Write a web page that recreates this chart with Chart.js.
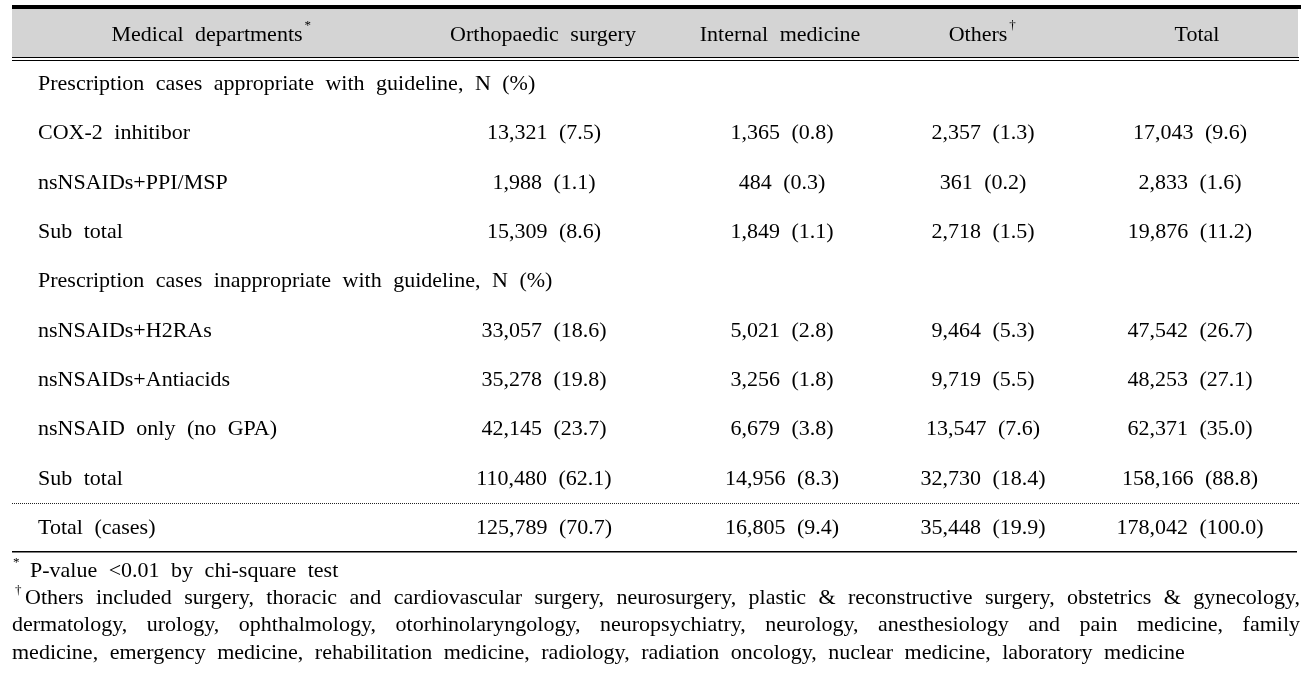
<html>
    <head>
        <script src="https://cdn.jsdelivr.net/npm/chart.js@4"></script>
        <style>
            body { margin: 0; background: #fff; }
        </style>
    </head>
    <body>
        <canvas id="myTable" width="1309" height="678"></canvas>

        <script>
            // table content
            var headers = ['Medical departments', 'Orthopaedic surgery', 'Internal medicine', 'Others', 'Total'];
            var sectionTitles = ['Prescription cases appropriate with guideline, N (%)', 'Prescription cases inappropriate with guideline, N (%)'];
            var rowLabels = ['COX-2 inhitibor', 'nsNSAIDs+PPI/MSP', 'Sub total', 'nsNSAIDs+H2RAs', 'nsNSAIDs+Antiacids', 'nsNSAID only (no GPA)', 'Sub total', 'Total (cases)'];
            var orthoN = [13321, 1988, 15309, 33057, 35278, 42145, 110480, 125789];
            var orthoPct = [7.5, 1.1, 8.6, 18.6, 19.8, 23.7, 62.1, 70.7];
            var internalN = [1365, 484, 1849, 5021, 3256, 6679, 14956, 16805];
            var internalPct = [0.8, 0.3, 1.1, 2.8, 1.8, 3.8, 8.3, 9.4];
            var othersN = [2357, 361, 2718, 9464, 9719, 13547, 32730, 35448];
            var othersPct = [1.3, 0.2, 1.5, 5.3, 5.5, 7.6, 18.4, 19.9];
            var totalN = [17043, 2833, 19876, 47542, 48253, 62371, 158166, 178042];
            var totalPct = [9.6, 1.6, 11.2, 26.7, 27.1, 35.0, 88.8, 100.0];
            var footnote1 = 'P-value <0.01 by chi-square test';
            var footnote2 = [
                'Others included surgery, thoracic and cardiovascular surgery, neurosurgery, plastic & reconstructive surgery, obstetrics & gynecology,',
                'dermatology, urology, ophthalmology, otorhinolaryngology, neuropsychiatry, neurology, anesthesiology and pain medicine, family',
                'medicine, emergency medicine, rehabilitation medicine, radiology, radiation oncology, nuclear medicine, laboratory medicine'
            ];

            // layout: which row index each body line sits on, and column centres
            var bodyRows = [2, 3, 4, 6, 7, 8, 9, 10];
            var sectionRows = [1, 5];
            var headerX = [207, 543, 780, 978, 1197];
            var valueX = [544, 782, 983, 1190];
            var labelX = 38;
            var footRows = [10.87, 11.42, 11.97, 12.54];

            var FONT = '22px "Liberation Serif", "DejaVu Serif", serif';
            var SMALL = '13px "Liberation Serif", "DejaVu Serif", serif';
            var DY = 1; // optical centring of the serif text
            var GAP = 11.5;

            function fmt(n, p) {
                return n.toLocaleString('en-US') + ' (' + p.toFixed(1) + ')';
            }

            // draw text with wider gaps between words, like the original
            function spacedWidth(ctx, text, gap) {
                var words = text.split(' ');
                var w = 0;
                words.forEach(function(wd) { w += ctx.measureText(wd).width; });
                return w + gap * (words.length - 1);
            }
            function drawSpaced(ctx, text, x, y, align, gap) {
                var words = text.split(' ');
                var total = spacedWidth(ctx, text, gap);
                var cx = x;
                if (align == 'center') cx = x - total / 2;
                if (align == 'right') cx = x - total;
                words.forEach(function(wd) {
                    ctx.fillText(wd, cx, y);
                    cx += ctx.measureText(wd).width + gap;
                });
                return cx - gap;
            }
            function drawJustified(ctx, text, x0, x1, y) {
                var words = text.split(' ');
                var sum = 0;
                words.forEach(function(wd) { sum += ctx.measureText(wd).width; });
                var gap = (x1 - x0 - sum) / (words.length - 1);
                var cx = x0;
                words.forEach(function(wd) {
                    ctx.fillText(wd, cx, y);
                    cx += ctx.measureText(wd).width + gap;
                });
            }

            var columns = [[orthoN, orthoPct], [internalN, internalPct], [othersN, othersPct], [totalN, totalPct]];
            var datasets = columns.map(function(col, c) {
                return {
                    label: headers[c + 1],
                    data: col[0].map(function(n, i) {
                        return { x: valueX[c], y: bodyRows[i], text: fmt(n, col[1][i]) };
                    }),
                    pointRadius: 0,
                    showLine: false
                };
            });
            // row labels and header as their own datasets
            datasets.push({
                label: 'rows',
                data: rowLabels.map(function(t, i) { return { x: labelX, y: bodyRows[i], text: t, align: 'left' }; })
                    .concat(sectionTitles.map(function(t, i) { return { x: labelX, y: sectionRows[i], text: t, align: 'left' }; })),
                pointRadius: 0,
                showLine: false
            });
            datasets.push({
                label: 'header',
                data: headers.map(function(t, i) {
                    return { x: headerX[i], y: 0, text: t, sup: i == 0 ? '*' : (i == 3 ? '\u2020' : null) };
                }),
                pointRadius: 0,
                showLine: false
            });

            var tablePlugin = {
                id: 'tablePlugin',
                beforeDatasetsDraw: function(chart) {
                    var ctx = chart.ctx;
                    var xs = chart.scales.x, ys = chart.scales.y;
                    var left = xs.getPixelForValue(12), right = xs.getPixelForValue(1301);
                    ctx.save();
                    // header band
                    var topY = Math.round(ys.getPixelForValue(-0.51));
                    var headBottom = Math.round(ys.getPixelForValue(0.47));
                    ctx.fillStyle = '#d4d4d4';
                    ctx.fillRect(left, topY, right - left - 3, headBottom - topY);
                    ctx.fillStyle = '#000';
                    ctx.fillRect(left, topY - 4, right - left, 4);
                    ctx.fillRect(left, headBottom, right - left - 2, 1);
                    ctx.fillRect(left, headBottom + 3, right - left - 2, 1);
                    // dotted line before the total row
                    var dotY = Math.round(ys.getPixelForValue(9.51)) + 0.5;
                    ctx.strokeStyle = '#222';
                    ctx.lineWidth = 1;
                    ctx.setLineDash([1, 1]);
                    ctx.beginPath();
                    ctx.moveTo(left, dotY);
                    ctx.lineTo(right - 2, dotY);
                    ctx.stroke();
                    ctx.setLineDash([]);
                    // bottom rule
                    var botY = Math.round(ys.getPixelForValue(10.48));
                    ctx.fillRect(left, botY, right - left - 4, 1.5);
                    ctx.restore();
                },
                afterDatasetsDraw: function(chart) {
                    var ctx = chart.ctx;
                    var xs = chart.scales.x, ys = chart.scales.y;
                    ctx.save();
                    ctx.fillStyle = '#000';
                    ctx.textBaseline = 'middle';
                    ctx.font = FONT;
                    chart.data.datasets.forEach(function(ds, d) {
                        var meta = chart.getDatasetMeta(d);
                        meta.data.forEach(function(el, i) {
                            var cell = ds.data[i];
                            var endX = drawSpaced(ctx, cell.text, el.x, el.y + DY, cell.align || 'center', GAP);
                            if (cell.sup) {
                                ctx.font = SMALL;
                                ctx.fillText(cell.sup, endX + 2, el.y + DY - 9);
                                ctx.font = FONT;
                            }
                        });
                    });
                    // footnotes
                    var x0 = xs.getPixelForValue(12), x1 = xs.getPixelForValue(1300);
                    ctx.font = SMALL;
                    ctx.fillText('*', x0 + 1, ys.getPixelForValue(footRows[0]) + DY - 8);
                    ctx.fillText('\u2020', x0 + 3, ys.getPixelForValue(footRows[1]) + DY - 8);
                    ctx.font = FONT;
                    drawSpaced(ctx, footnote1, x0 + 18, ys.getPixelForValue(footRows[0]) + DY, 'left', GAP);
                    drawJustified(ctx, footnote2[0], x0 + 13, x1, ys.getPixelForValue(footRows[1]) + DY);
                    drawJustified(ctx, footnote2[1], x0, x1, ys.getPixelForValue(footRows[2]) + DY);
                    drawSpaced(ctx, footnote2[2], x0, ys.getPixelForValue(footRows[3]) + DY, 'left', GAP);
                    ctx.restore();
                }
            };

            var ctx = document.getElementById('myTable').getContext('2d');
            var chart = new Chart(ctx, {
                type: 'scatter',
                data: { datasets: datasets },
                options: {
                    responsive: false,
                    animation: false,
                    layout: { padding: 0 },
                    plugins: { legend: { display: false }, tooltip: { enabled: false } },
                    scales: {
                        x: { type: 'linear', display: false, min: 0, max: 1309 },
                        y: { type: 'linear', display: false, min: -0.69, max: 13.06, reverse: true }
                    }
                },
                plugins: [tablePlugin]
            });
        </script>
    </body>
</html>
